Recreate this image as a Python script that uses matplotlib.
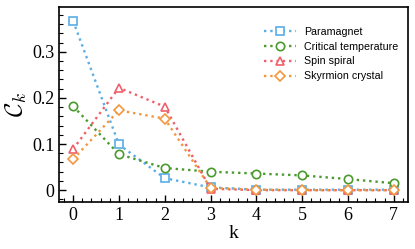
import matplotlib
matplotlib.use("Agg")
import matplotlib.pyplot as plt
from matplotlib.ticker import MultipleLocator

plt.rcParams["font.family"] = "Liberation Serif"
plt.rcParams["mathtext.fontset"] = "cm"

k = [0, 1, 2, 3, 4, 5, 6, 7]
paramagnet = [0.367, 0.099, 0.026, 0.006, 0.001, 0.001, 0.001, 0.001]
critical = [0.182, 0.078, 0.048, 0.040, 0.036, 0.032, 0.024, 0.015]
spin_spiral = [0.089, 0.222, 0.181, 0.003, 0.0, 0.0, 0.0, 0.0]
skyrmion = [0.067, 0.173, 0.155, 0.005, 0.001, 0.0, 0.0, 0.0]

series = [
    ("Paramagnet", paramagnet, "#5aaee6", "s", 5.5),
    ("Critical temperature", critical, "#4a9a2e", "o", 6),
    ("Spin spiral", spin_spiral, "#f0606c", "^", 6),
    ("Skyrmion crystal", skyrmion, "#f2973e", "D", 5),
]

fig, ax = plt.subplots(figsize=(4.15, 2.49), dpi=100)
for name, vals, col, mk, ms in series:
    ax.plot(k, vals, linestyle=":", linewidth=1.7, color=col, marker=mk,
            markersize=ms, markerfacecolor="white", markeredgecolor=col,
            markeredgewidth=1.2, label=name)

ax.set_xlim(-0.3, 7.3)
ax.set_ylim(-0.025, 0.396)
ax.xaxis.set_major_locator(MultipleLocator(1))
ax.xaxis.set_minor_locator(MultipleLocator(0.2))
ax.yaxis.set_minor_locator(MultipleLocator(0.02))
ax.set_yticks([0, 0.1, 0.2, 0.3])
ax.set_yticklabels(["0", "0.1", "0.2", "0.3"])
ax.tick_params(which="both", direction="in", labelsize=13)
ax.tick_params(which="major", length=5, width=1)
ax.tick_params(which="minor", length=3, width=0.8)
for sp in ax.spines.values():
    sp.set_linewidth(1.2)

ax.set_xlabel("k", fontsize=14, labelpad=1)
ax.set_ylabel(r"$\mathcal{C}_k$", fontsize=18, labelpad=2)

ax.legend(loc="upper right", bbox_to_anchor=(1.0, 0.95), frameon=False,
          prop={"family": "Liberation Sans", "size": 7.7},
          handlelength=3.0, handletextpad=0.75, borderaxespad=0.5,
          labelspacing=0.45)

fig.subplots_adjust(left=0.143, right=0.982, top=0.97, bottom=0.19)
fig.savefig("out.png", dpi=100)
